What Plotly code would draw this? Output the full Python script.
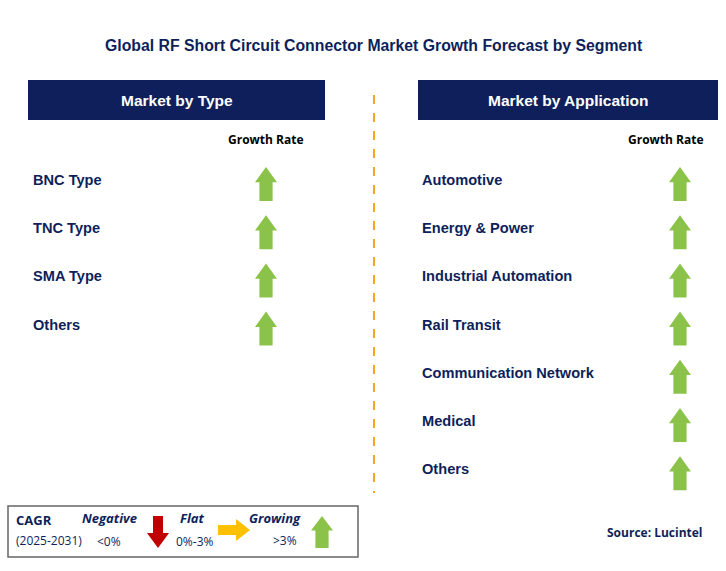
import plotly.graph_objs as go

title = "Global RF Short Circuit Connector Market Growth Forecast by Segment"
type_labels = ["BNC Type", "TNC Type", "SMA Type", "Others"]
type_growth = ["up", "up", "up", "up"]
app_labels = ["Automotive", "Energy & Power", "Industrial Automation", "Rail Transit",
              "Communication Network", "Medical", "Others"]
app_growth = ["up", "up", "up", "up", "up", "up", "up"]

NAVY = "#0e1f5b"
GREEN = "#8bc34a"
FONT = "Open Sans"
ARIAL = "Liberation Sans, Arial"

fig = go.Figure()
shapes = []
ann = []


def up_arrow(cx, cy, w=22, h=34, color=GREEN):
    top = cy - h / 2
    bot = cy + h / 2
    hw = w / 2
    sw = w * 0.3
    mid = top + h * 0.45
    p = (f"M{cx},{top} L{cx+hw},{mid} L{cx+sw},{mid} L{cx+sw},{bot} "
         f"L{cx-sw},{bot} L{cx-sw},{mid} L{cx-hw},{mid} Z")
    return dict(type="path", path=p, fillcolor=color, line=dict(width=0), xref="x", yref="y")


def panel(x0, x1, header, labels, growth, text_x, arrow_x, gr_x):
    shapes.append(dict(type="rect", x0=x0, x1=x1, y0=80, y1=120, fillcolor=NAVY,
                       line=dict(width=0), xref="x", yref="y"))
    ann.append(dict(x=(x0 + x1) / 2, y=100, text=f"<b>{header}</b>", showarrow=False,
                    font=dict(color="white", size=15.5, family=ARIAL)))
    ann.append(dict(x=gr_x, y=139, text="<b>Growth Rate</b>", showarrow=False,
                    font=dict(color="black", size=12, family=FONT)))
    for i, (lab, g) in enumerate(zip(labels, growth)):
        y = 180 + i * 48.2
        ann.append(dict(x=text_x, y=y, text=f"<b>{lab}</b>", showarrow=False, xanchor="left",
                        font=dict(color=NAVY, size=14.6, family=ARIAL)))
        if g == "up":
            shapes.append(up_arrow(arrow_x, y + 4))


panel(28, 325, "Market by Type", type_labels, type_growth, 31, 266, 266)
panel(418, 718, "Market by Application", app_labels, app_growth, 420, 680, 666)

ann.append(dict(x=374, y=45, text=f"<b>{title}</b>", showarrow=False,
                font=dict(color=NAVY, size=15.8, family=ARIAL)))
shapes.append(dict(type="line", x0=374, x1=374, y0=95, y1=493,
                   line=dict(color="#f5a623", width=2, dash="dash"), xref="x", yref="y"))

# legend box
shapes.append(dict(type="rect", x0=8, x1=358, y0=506, y1=557, line=dict(color="#666", width=1.5),
                   fillcolor="white", xref="x", yref="y"))
ann += [
    dict(x=14, y=520, text="<b>CAGR</b>", xanchor="left", showarrow=False,
         font=dict(color=NAVY, size=13, family=FONT)),
    dict(x=14, y=540, text="(2025-2031)", xanchor="left", showarrow=False,
         font=dict(color=NAVY, size=12, family=FONT)),
    dict(x=109, y=518, text="<b><i>Negative</i></b>", showarrow=False,
         font=dict(color=NAVY, size=13, family=FONT)),
    dict(x=109, y=541, text="<0%", showarrow=False, font=dict(color=NAVY, size=12, family=FONT)),
    dict(x=192, y=518, text="<b><i>Flat</i></b>", showarrow=False,
         font=dict(color=NAVY, size=13, family=FONT)),
    dict(x=195, y=541, text="0%-3%", showarrow=False, font=dict(color=NAVY, size=12, family=FONT)),
    dict(x=275, y=518, text="<b><i>Growing</i></b>", showarrow=False,
         font=dict(color=NAVY, size=13, family=FONT)),
    dict(x=285, y=540, text=">3%", showarrow=False, font=dict(color=NAVY, size=12, family=FONT)),
    dict(x=705, y=532, text="<b>Source: Lucintel</b>", xanchor="right", showarrow=False,
         font=dict(color=NAVY, size=12, family=FONT)),
]
# down arrow (red)
cx, top, bot = 158, 516, 548
shapes.append(dict(type="path", fillcolor="#c00000", line=dict(width=0),
                   path=f"M{cx-5},{top} L{cx+5},{top} L{cx+5},{top+17} L{cx+11},{top+17} "
                        f"L{cx},{bot} L{cx-11},{top+17} L{cx-5},{top+17} Z"))
# right arrow (yellow)
l, r, cy = 218, 250, 530
shapes.append(dict(type="path", fillcolor="#ffc000", line=dict(width=0),
                   path=f"M{l},{cy-5} L{l+18},{cy-5} L{l+18},{cy-11} L{r},{cy} "
                        f"L{l+18},{cy+11} L{l+18},{cy+5} L{l},{cy+5} Z"))
shapes.append(up_arrow(322, 532, w=22, h=32))

fig.add_trace(go.Scatter(x=[0], y=[0], mode="markers", marker=dict(opacity=0),
                         showlegend=False, hoverinfo="skip"))
fig.update_layout(
    width=726, height=571, margin=dict(l=0, r=0, t=0, b=0),
    plot_bgcolor="white", paper_bgcolor="white",
    xaxis=dict(range=[0, 726], visible=False, fixedrange=True),
    yaxis=dict(range=[571, 0], visible=False, fixedrange=True),
    shapes=shapes, annotations=ann, showlegend=False,
)
fig.write_html("out.html", config={"displayModeBar": False},
               post_script="document.body.style.margin='0';document.body.style.overflow='hidden';")
